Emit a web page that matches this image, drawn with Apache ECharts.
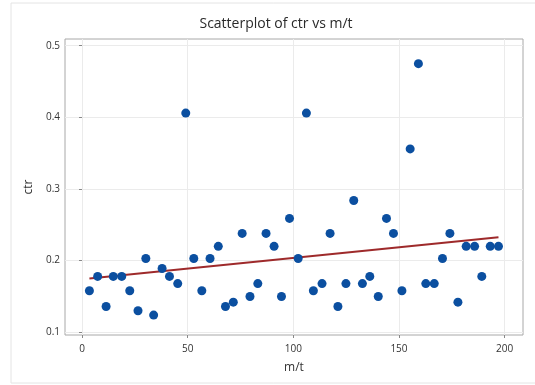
<!DOCTYPE html>
<html><head><meta charset="utf-8">
<script src="https://cdn.jsdelivr.net/npm/echarts@6/dist/echarts.min.js"></script>
<style>html,body{margin:0;padding:0;background:#fff}#c{width:535px;height:385px}</style>
</head><body><div id="c"></div>
<script>
var mt = [3.5, 7.4, 11.4, 14.8, 18.8, 22.6, 26.5, 30.2, 33.9, 37.9, 41.4, 45.3, 49.1, 52.9, 56.7, 60.6,
  64.5, 67.9, 71.6, 75.8, 79.5, 83.2, 87.1, 90.9, 94.4, 98.2, 102.3, 106.2, 109.5, 113.6, 117.4, 121.1, 124.9,
  128.6, 132.7, 136.2, 140.2, 144.1, 147.4, 151.4, 155.3, 159.2, 162.7, 166.7, 170.6, 174.1, 177.9, 181.8, 185.8, 189.2, 193.2, 197.1];
var ctr = [0.158, 0.178, 0.136, 0.178, 0.178, 0.158, 0.130, 0.203, 0.124, 0.189, 0.178, 0.168, 0.406, 0.203, 0.158, 0.203,
  0.220, 0.136, 0.142, 0.238, 0.150, 0.168, 0.238, 0.220, 0.150, 0.259, 0.203, 0.406, 0.158, 0.168, 0.238, 0.136, 0.168,
  0.284, 0.168, 0.178, 0.150, 0.259, 0.238, 0.158, 0.356, 0.475, 0.168, 0.168, 0.203, 0.238, 0.142, 0.220, 0.220, 0.178, 0.220, 0.220];
var fitX = [3.5, 197.1];
var fitY = [0.175, 0.2325];
var xTicks = [0, 50, 100, 150, 200];
var yTicks = [0.1, 0.2, 0.3, 0.4, 0.5];

var pts = mt.map(function (x, i) { return [x, ctr[i]]; });
var fit = fitX.map(function (x, i) { return [x, fitY[i]]; });
var chart = echarts.init(document.getElementById('c'));
var fam = '"Open Sans", "Noto Sans", sans-serif';
chart.setOption({
  animation: false,
  title: { text: 'Scatterplot of ctr vs m/t', left: 271, top: 12, textAlign: 'center',
    textStyle: { fontFamily: fam, fontSize: 14, fontWeight: 500, color: '#2a2a2a' } },
  graphic: [{ type: 'rect', shape: { x: 11, y: 3, width: 540, height: 380 },
    style: { fill: 'none', stroke: '#e4e4e4', lineWidth: 1 }, silent: true, z: -10 }],
  grid: { left: 65, top: 39, right: 12, bottom: 50, show: true, borderColor: '#a8a8a8', borderWidth: 1 },
  xAxis: { type: 'value', min: -8.05, max: 208.7, name: 'm/t', nameLocation: 'middle', nameGap: 27,
    nameTextStyle: { fontFamily: fam, fontSize: 12, color: '#333' },
    axisLine: { show: false },
    axisTick: { show: true, length: 3, customValues: xTicks, lineStyle: { color: '#888' } },
    axisLabel: { customValues: xTicks, fontFamily: fam, fontSize: 10, fontWeight: 500, color: '#333', margin: 9 },
    splitLine: { show: true, customValues: xTicks, lineStyle: { color: '#ebebeb' } } },
  yAxis: { type: 'value', min: 0.0962, max: 0.5094, name: 'ctr', nameLocation: 'middle', nameGap: 30,
    nameTextStyle: { fontFamily: fam, fontSize: 12, color: '#333' },
    axisLine: { show: false },
    axisTick: { show: true, length: 3, customValues: yTicks, lineStyle: { color: '#888' } },
    axisLabel: { customValues: yTicks, fontFamily: fam, fontSize: 10, fontWeight: 500, color: '#333', margin: 5,
      formatter: function (v) { return (Math.round(v * 10) / 10).toString(); } },
    splitLine: { show: true, customValues: yTicks, lineStyle: { color: '#ebebeb' } } },
  series: [
    { type: 'line', data: fit, symbol: 'none', lineStyle: { color: '#9e2a2b', width: 2 }, z: 2 },
    { type: 'scatter', data: pts, symbolSize: 9, itemStyle: { color: '#0b4fa0', opacity: 1 }, z: 3 }
  ]
});
</script></body></html>
